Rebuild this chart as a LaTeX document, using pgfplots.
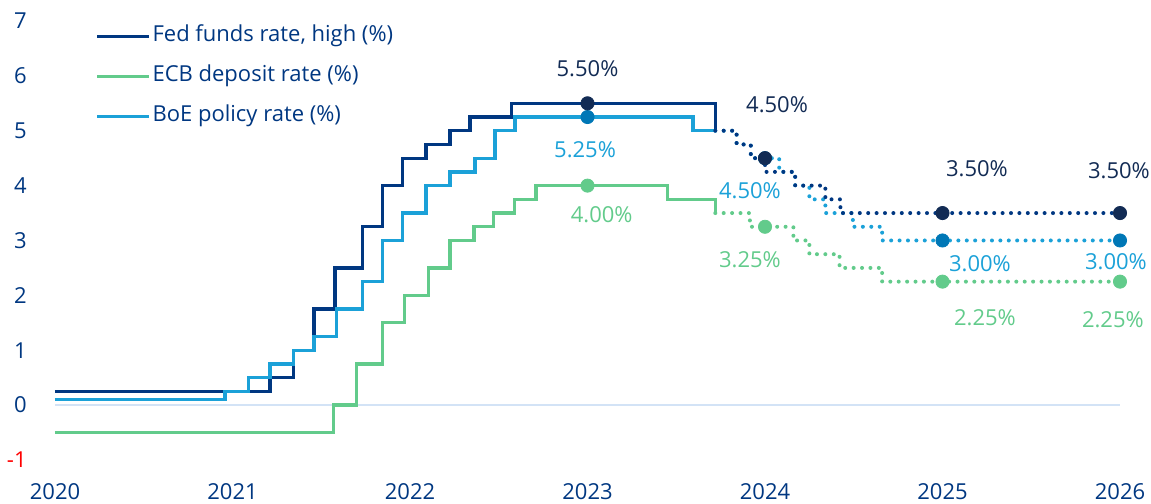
\documentclass[border=0pt]{standalone}
\usepackage{fontspec}
\setmainfont{Open Sans}
\usepackage{pgfplots}
\pgfplotsset{compat=1.18}

\definecolor{fedblue}{HTML}{003781}
\definecolor{fednavy}{HTML}{122B54}
\definecolor{boeblue}{HTML}{1BA1D8}
\definecolor{boedot}{HTML}{0077B6}
\definecolor{ecbgreen}{HTML}{62CB8B}
\definecolor{zeroline}{HTML}{D3E3F6}

\newcommand{\lbl}{\fontsize{11}{13}\selectfont}

\begin{document}
\begin{tikzpicture}
\begin{axis}[
  scale only axis,
  width=532.5pt, height=219.5pt,
  xmin=2020, xmax=2026, ymin=-1, ymax=7,
  axis line style={draw=none},
  major tick style={draw=none},
  xtick={2020,2021,2022,2023,2024,2025,2026},
  xticklabels={2020,2021,2022,2023,2024,2025,2026},
  ytick={-1,0,1,2,3,4,5,6,7},
  yticklabels={\textcolor{red}{-1},0,1,2,3,4,5,6,7},
  ticklabel style={font=\lbl, text=fedblue, inner sep=0pt},
  xticklabel style={anchor=center, yshift=-16pt},
  yticklabel style={anchor=east, xshift=-14pt},
  clip=false,
  legend cell align=left,
  legend image code/.code={\draw[#1, line width=1.6pt] (0pt,0pt) -- (26pt,0pt);},
  legend style={at={(rel axis cs:0,1)}, anchor=north west, xshift=20pt, yshift=-1pt,
    draw=none, fill=none, inner sep=0pt, font=\lbl, text=fedblue,
    row sep=7pt, nodes={inner sep=0pt, text height=9pt, text depth=4pt},
    /tikz/every odd column/.append style={column sep=1pt}},
]

% zero line
\addplot[zeroline, line width=1pt, forget plot] coordinates {(2020,0) (2026,0)};

% actual rates (solid)
\addplot[fedblue, line width=1.65pt, const plot] coordinates {
  (2020,0.25) (2021.211,0.5) (2021.343,1.0) (2021.459,1.75) (2021.577,2.5)
  (2021.733,3.25) (2021.844,4.0) (2021.959,4.5) (2022.09,4.75) (2022.225,5.0)
  (2022.338,5.25) (2022.573,5.5) (2023.72,5.0)
};
\addlegendentry{Fed funds rate, high (\%)}

\addplot[ecbgreen, line width=1.65pt, const plot] coordinates {
  (2020,-0.5) (2021.57,0) (2021.70,0.75) (2021.844,1.5) (2021.97,2.0)
  (2022.105,2.5) (2022.225,3.0) (2022.36,3.25) (2022.47,3.5) (2022.59,3.75)
  (2022.71,4.0) (2023.45,3.75) (2023.72,3.5)
};
\addlegendentry{ECB deposit rate (\%)}

\addplot[boeblue, line width=1.65pt, const plot] coordinates {
  (2020,0.1) (2020.958,0.25) (2021.089,0.5) (2021.211,0.75) (2021.343,1.0)
  (2021.459,1.25) (2021.587,1.75) (2021.733,2.25) (2021.844,3.0) (2021.959,3.5)
  (2022.09,4.0) (2022.225,4.25) (2022.366,4.5) (2022.479,5.0) (2022.592,5.25)
  (2023.595,5.0) (2023.72,5.0)
};
\addlegendentry{BoE policy rate (\%)}

% forecasts (dotted)
\pgfplotsset{dotted path/.style={line width=2pt, dash pattern=on 0pt off 4.2pt,
  line cap=round, const plot, forget plot}}
\addplot[ecbgreen, dotted path] coordinates {
  (2023.72,3.5) (2023.915,3.25) (2024.16,3.0) (2024.25,2.75) (2024.42,2.5)
  (2024.66,2.25) (2026,2.25)
};
\addplot[boeblue, dotted path] coordinates {
  (2023.72,5.0) (2023.84,4.75) (2023.92,4.5) (2024.08,4.25) (2024.17,4.0)
  (2024.25,3.75) (2024.34,3.5) (2024.495,3.25) (2024.66,3.0) (2026,3.0)
};
\addplot[fedblue, dotted path] coordinates {
  (2023.72,5.0) (2023.84,4.75) (2023.92,4.5) (2024.0,4.25) (2024.17,4.0)
  (2024.34,3.75) (2024.425,3.5) (2026,3.5)
};

% year-end markers
\addplot[only marks, mark=*, mark size=3.3pt, color=ecbgreen, forget plot]
  coordinates {(2023,4.0) (2024,3.25) (2025,2.25) (2026,2.25)};
\addplot[only marks, mark=*, mark size=3.3pt, color=boedot, forget plot]
  coordinates {(2023,5.25) (2024,4.5) (2025,3.0) (2026,3.0)};
\addplot[only marks, mark=*, mark size=3.3pt, color=fednavy, forget plot]
  coordinates {(2023,5.5) (2024,4.5) (2025,3.5) (2026,3.5)};

% value labels
\begin{scope}[every node/.style={font=\lbl, inner sep=0pt, anchor=center}]
\node[text=fednavy]  at (axis cs:2023.0,6.127)   {5.50\%};
\node[text=boeblue]  at (axis cs:2022.986,4.655) {5.25\%};
\node[text=ecbgreen] at (axis cs:2023.08,3.473)  {4.00\%};
\node[text=fednavy]  at (axis cs:2024.068,5.473) {4.50\%};
\node[text=boeblue]  at (axis cs:2023.915,3.909) {4.50\%};
\node[text=ecbgreen] at (axis cs:2023.915,2.645) {3.25\%};
\node[text=fednavy]  at (axis cs:2025.194,4.309) {3.50\%};
\node[text=boeblue]  at (axis cs:2025.211,2.582) {3.00\%};
\node[text=ecbgreen] at (axis cs:2025.239,1.600) {2.25\%};
\node[text=fednavy]  at (axis cs:2025.994,4.264) {3.50\%};
\node[text=boeblue]  at (axis cs:2025.977,2.618) {3.00\%};
\node[text=ecbgreen] at (axis cs:2025.960,1.555) {2.25\%};
\end{scope}
\end{axis}
\pgfresetboundingbox
\useasboundingbox ([shift={(-27.5pt,-22pt)}]current axis.south west)
  rectangle ([shift={(15.5pt,10.5pt)}]current axis.north east);
\end{tikzpicture}
\end{document}
